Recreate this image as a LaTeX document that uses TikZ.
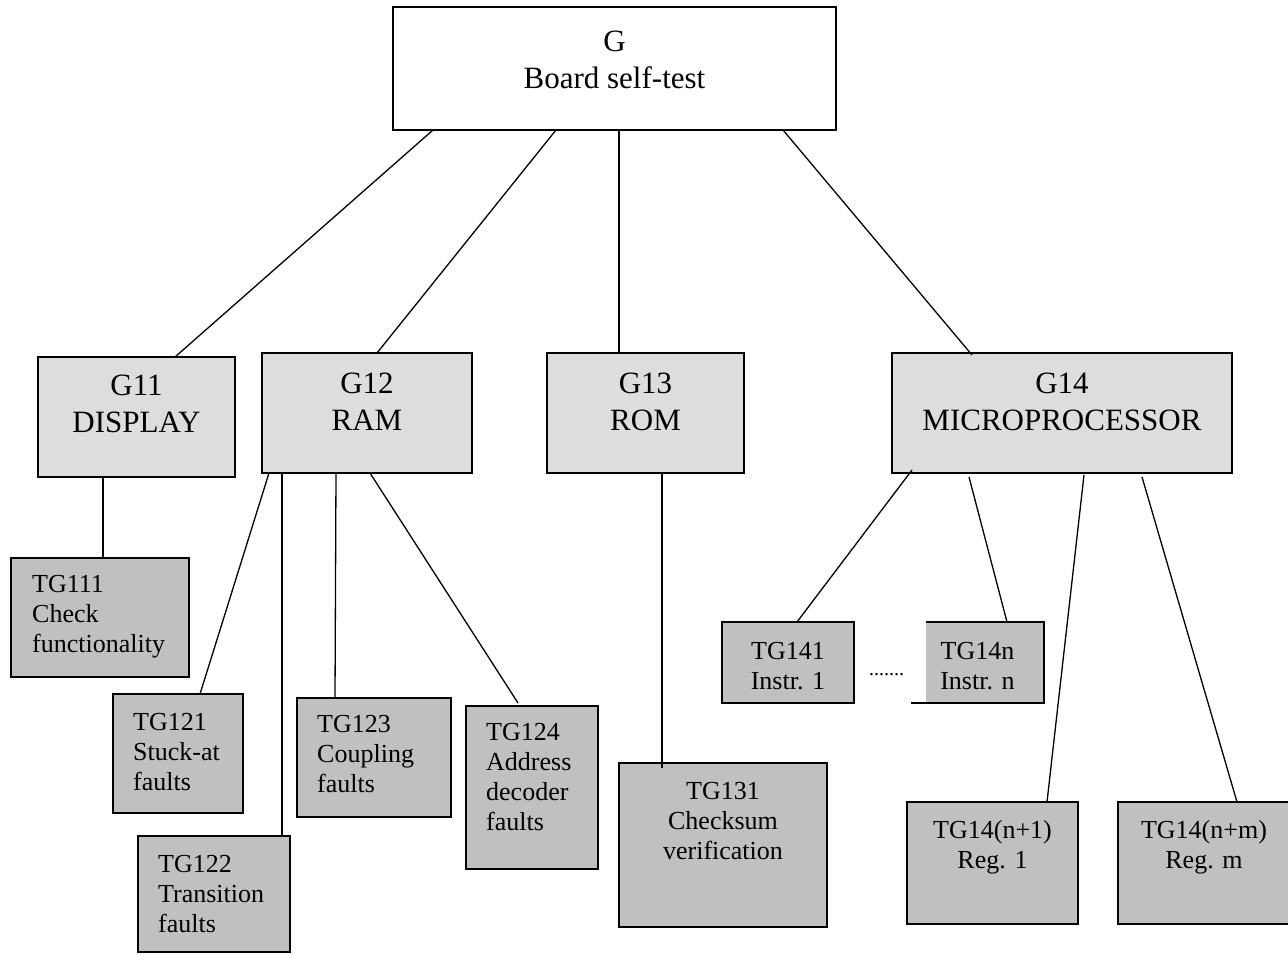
\documentclass[tikz,border=0pt]{standalone}
\usepackage{fontspec}
\setmainfont{Liberation Serif}
\usetikzlibrary{calc}
\definecolor{lgray}{HTML}{DDDDDD}
\definecolor{dgray}{HTML}{C0C0C0}
\begin{document}
\begin{tikzpicture}[x=1pt,y=-1pt,
  box/.style={draw=black, line width=1.3pt, inner sep=0pt, outer sep=0pt},
  topbox/.style={box, fill=white},
  midbox/.style={box, fill=lgray},
  leafbox/.style={box, fill=dgray},
  bigtxt/.style={font=\fontsize{31}{37}\selectfont, align=center, inner sep=0pt, anchor=north},
  leaftxt/.style={font=\fontsize{26}{30}\selectfont, align=center, inner sep=0pt, anchor=north},
  lefttxt/.style={font=\fontsize{26}{30}\selectfont, align=left, inner sep=0pt, anchor=north west},
  conn/.style={line width=1.3pt, draw=black}]
\useasboundingbox (0,0) rectangle (1288,955);

% top
\node[topbox, minimum width=443pt, minimum height=123pt] (G) at (614.5,68.5) {};
% level 1
\node[midbox, minimum width=197pt, minimum height=120pt] (G11) at (136.5,417) {};
\node[midbox, minimum width=210pt, minimum height=120pt] (G12) at (367,413) {};
\node[midbox, minimum width=197pt, minimum height=120pt] (G13) at (645.5,413) {};
\node[midbox, minimum width=340pt, minimum height=120pt] (G14) at (1062,413) {};
% leaves
\node[leafbox, minimum width=178pt, minimum height=119pt] (TG111) at (100,617.5) {};
\node[leafbox, minimum width=130pt, minimum height=119pt] (TG121) at (178,753.5) {};
\node[leafbox, minimum width=152pt, minimum height=116pt] (TG122) at (214,894) {};
\node[leafbox, minimum width=154pt, minimum height=119pt] (TG123) at (374,757.5) {};
\node[leafbox, minimum width=132pt, minimum height=163pt] (TG124) at (532,787.5) {};
\node[leafbox, minimum width=208pt, minimum height=164pt] (TG131) at (723,845) {};
\node[leafbox, minimum width=132pt, minimum height=81pt] (TG141) at (788,662.5) {};
\node[inner sep=0pt, outer sep=0pt, minimum width=133pt, minimum height=81pt] (TG14n) at (977.5,662.5) {};
\fill[dgray] ($(TG14n.north west)+(15,0)$) rectangle (TG14n.south east);
\draw[conn] ($(TG14n.north west)+(15,0)$) -- (TG14n.north east) -- (TG14n.south east) -- (TG14n.south west);
\node[leafbox, minimum width=171pt, minimum height=122pt] (TG14np1) at (992.5,863) {};
\node[leafbox, minimum width=172pt, minimum height=122pt] (TG14nm) at (1204,863) {};

% texts
\node[bigtxt] (G-t) at ($(G.north)+(0,24)$) {G\\Board self-test};
\node[bigtxt] (G11-t) at ($(G11.north)+(0,18)$) {G11\\DISPLAY};
\node[bigtxt] (G12-t) at ($(G12.north)+(0,20)$) {G12\\RAM};
\node[bigtxt] (G13-t) at ($(G13.north)+(0,20)$) {G13\\ROM};
\node[bigtxt] (G14-t) at ($(G14.north)+(0,20)$) {G14\\MICROPROCESSOR};
\node[lefttxt] (TG111-t) at ($(TG111.north west)+(21,17)$) {TG111\\Check\\functionality};
\node[lefttxt] (TG121-t) at ($(TG121.north west)+(20,19)$) {TG121\\Stuck-at\\faults};
\node[lefttxt] (TG122-t) at ($(TG122.north west)+(20,19)$) {TG122\\Transition\\faults};
\node[lefttxt] (TG123-t) at ($(TG123.north west)+(20,17)$) {TG123\\Coupling\\faults};
\node[lefttxt] (TG124-t) at ($(TG124.north west)+(20,17)$) {TG124\\Address\\decoder\\faults};
\node[leaftxt] (TG131-t) at ($(TG131.north)+(0,19)$) {TG131\\Checksum\\verification};
\node[leaftxt] (TG141-t) at ($(TG141.north)+(0,20)$) {TG141\\Instr. 1};
\node[leaftxt] (TG14n-t) at ($(TG14n.north)+(0,20)$) {TG14n\\Instr. n};
\node[leaftxt] (TG14np1-t) at ($(TG14np1.north)+(0,18)$) {TG14(n+1)\\Reg. 1};
\node[leaftxt] (TG14nm-t) at ($(TG14nm.north)+(0,18)$) {TG14(n+m)\\Reg. m};
\node[font=\fontsize{20}{24}\selectfont, inner sep=0pt, anchor=base] (dots) at (886.5,675) {.......};

% connectors
\draw[conn] ($(G.south west)+(40,0)$) -- ($(G11.north west)+(137,0)$);
\draw[conn] ($(G.south west)+(163,0)$) -- ($(G12.north west)+(115,0)$);
\draw[conn] ($(G.south west)+(226,0)$) -- ($(G13.north west)+(72,0)$);
\draw[conn] ($(G.south west)+(390,0)$) -- ($(G14.north west)+(80,2)$);
\draw[conn] ($(G11.south west)+(65,0)$) -- ($(TG111.north west)+(92,0)$);
\draw[conn] ($(G12.south west)+(7,0)$) -- ($(TG121.north west)+(87,0)$);
\draw[conn] ($(G12.south west)+(20,0)$) -- ($(TG122.north west)+(144,0)$);
\draw[conn] ($(G12.south west)+(74,0)$) -- ($(TG123.north west)+(38,0)$);
\draw[conn] ($(G12.south west)+(108,0)$) -- ($(TG124.north west)+(52,-3)$);
\draw[conn] ($(G13.south west)+(115,0)$) -- ($(TG131.north west)+(43,5)$);
\draw[conn] ($(G14.south west)+(20,-3)$) -- ($(TG141.north west)+(75,0)$);
\draw[conn] ($(G14.south west)+(77,4)$) -- ($(TG14n.north west)+(96,0)$);
\draw[conn] ($(G14.south west)+(192,2)$) -- ($(TG14np1.north west)+(140,0)$);
\draw[conn] ($(G14.south west)+(250,4)$) -- ($(TG14nm.north west)+(119,0)$);
\end{tikzpicture}
\end{document}
